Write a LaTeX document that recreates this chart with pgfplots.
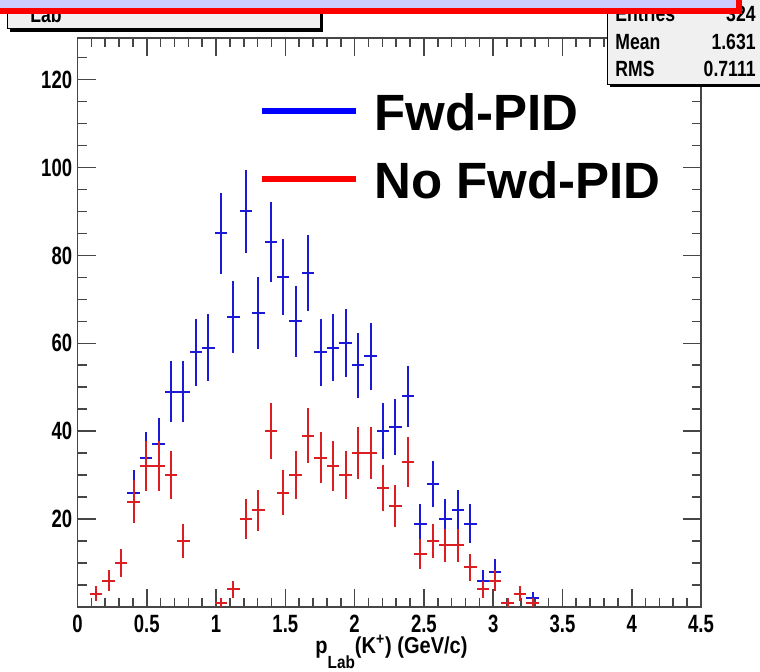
\documentclass[border=0pt]{standalone}
\usepackage{fontspec}
\setmainfont{Liberation Sans}
\newfontfamily\tickfont{Liberation Sans}[FakeStretch=0.74]
\newfontfamily\statfont{Liberation Sans}[FakeStretch=0.8]
\newfontfamily\labfont{Liberation Sans}[FakeStretch=0.87]
\usepackage{pgfplots}
\pgfplotsset{compat=1.18}
\usepackage{pgfplotstable}
\definecolor{hblue}{RGB}{25,25,215}
\definecolor{hred}{RGB}{220,30,35}
\definecolor{lblue}{RGB}{0,0,255}
\definecolor{lred}{RGB}{255,0,0}
\definecolor{titlebg}{RGB}{204,204,255}
\definecolor{boxbg}{RGB}{240,240,240}
\definecolor{framec}{RGB}{70,70,70}

\pgfplotstableread{
x y ey
0.135 3 1.73
0.225 6 2.45
0.315 10 3.16
0.405 26 5.10
0.495 34 5.83
0.585 37 6.08
0.675 49 7.00
0.765 49 7.00
0.855 58 7.62
0.945 59 7.68
1.035 85 9.22
1.125 66 8.12
1.215 90 9.49
1.305 67 8.19
1.395 83 9.11
1.485 75 8.66
1.575 65 8.06
1.665 76 8.72
1.755 58 7.62
1.845 59 7.68
1.935 60 7.75
2.025 55 7.42
2.115 57 7.55
2.205 40 6.32
2.295 41 6.40
2.385 48 6.93
2.475 19 4.36
2.565 28 5.29
2.655 20 4.47
2.745 22 4.69
2.835 19 4.36
2.925 6 2.45
3.015 8 2.83
3.105 1 1.00
3.195 3 1.73
3.285 2 1.41
}\fwd

\pgfplotstableread{
x y ey
0.135 3 1.73
0.225 6 2.45
0.315 10 3.16
0.405 24 4.90
0.495 32 5.66
0.585 32 5.66
0.675 30 5.48
0.765 15 3.87
1.035 1 1.00
1.125 4 2.00
1.215 20 4.47
1.305 22 4.69
1.395 40 6.32
1.485 26 5.10
1.575 30 5.48
1.665 39 6.24
1.755 34 5.83
1.845 32 5.66
1.935 30 5.48
2.025 35 5.92
2.115 35 5.92
2.205 27 5.20
2.295 23 4.80
2.385 33 5.74
2.475 12 3.46
2.565 15 3.87
2.655 14 3.74
2.745 14 3.74
2.835 9 3.00
2.925 4 2.00
3.015 6 2.45
3.105 1 1.00
3.195 3 1.73
3.285 1 1.00
}\nofwd

\begin{document}
\begin{tikzpicture}
\path[use as bounding box] (0pt,0pt) rectangle (380pt,335.5pt);
\begin{axis}[
  at={(38.75pt,32pt)}, anchor=south west,
  scale only axis, width=311.75pt, height=284.35pt,
  xmin=0, xmax=4.5, ymin=0, ymax=129.4,
  xtick={0,0.5,1,1.5,2,2.5,3,3.5,4,4.5},
  xticklabels={0,0.5,1,1.5,2,2.5,3,3.5,4,4.5},
  minor x tick num=4,
  ytick={0,20,40,60,80,100,120},
  yticklabels={,20,40,60,80,100,120},
  minor ytick={5,10,15,25,30,35,45,50,55,65,70,75,85,90,95,105,110,115,125},
  tick align=inside, xtick pos=both, ytick pos=both,
  major tick length=9pt, minor tick length=4.5pt,
  every tick/.style={framec, line width=0.8pt},
  axis line style={framec, line width=0.9pt},
  /pgf/number format/assume math mode=true,
  tick label style={font=\tickfont\bfseries\fontsize{12.5}{14}\selectfont},
  xticklabel style={inner sep=0pt, yshift=-4pt},
  yticklabel style={inner sep=0pt, xshift=-2.5pt},
  xlabel={p\raisebox{-7.8pt}{\fontsize{8.8}{9}\selectfont Lab}(K\textsuperscript{+}) (GeV/c)},
  xlabel style={font=\labfont\bfseries\fontsize{11.5}{13}\selectfont,
    at={(axis description cs:0.381,-0.0815)}, anchor=base west, inner sep=0pt},
  legend style={at={(0.2906,0.9030)}, anchor=north west, draw=none, fill=none,
    inner sep=0pt, outer sep=0pt, row sep=14.2pt,
    nodes={inner sep=0pt, outer sep=0pt},
    font=\bfseries\fontsize{25.5}{28}\selectfont,
    /tikz/every odd column/.append style={column sep=8pt}},
  legend cell align=left,
  legend image code/.code={\draw[line width=3pt] (0pt,1.25pt) -- (47pt,1.25pt);},
]
\addlegendimage{lblue}
\addlegendentry{Fwd-PID}
\addlegendimage{lred}
\addlegendentry{No Fwd-PID}
\addplot[forget plot, draw=none, mark=none,
  error bars/.cd, x dir=both, x fixed=0.045, y dir=both, y explicit,
  error mark=none, error bar style={draw=hblue, line width=1pt}]
  table[x=x, y=y, y error=ey] {\fwd};
\addplot[forget plot, draw=none, mark=none,
  error bars/.cd, x dir=both, x fixed=0.045, y dir=both, y explicit,
  error mark=none, error bar style={draw=hred, line width=1pt}]
  table[x=x, y=y, y error=ey] {\nofwd};
\end{axis}
% stats box
\fill[black] (305pt,291.85pt) rectangle (385pt,345pt);
\filldraw[fill=boxbg, draw=black, line width=0.5pt] (303.5pt,293.35pt) rectangle (385pt,345pt);
\begin{scope}[every node/.style={inner sep=0pt, font=\statfont\bfseries\fontsize{11}{13}\selectfont}]
\node[anchor=base west] at (307.5pt,324.5pt) {Entries};
\node[anchor=base east] at (378pt,324.5pt) {324};
\node[anchor=base west] at (307.5pt,310.5pt) {Mean};
\node[anchor=base east] at (378pt,310.5pt) {1.631};
\node[anchor=base west] at (307.5pt,297.25pt) {RMS};
\node[anchor=base east] at (378pt,297.25pt) {0.7111};
\end{scope}
% title-box fragment
\fill[black] (5.15pt,319.65pt) rectangle (161.65pt,345pt);
\filldraw[fill=boxbg, draw=black, line width=0.5pt] (3.65pt,321.35pt) rectangle (160.35pt,345pt);
\node[anchor=base west, inner sep=0pt, font=\statfont\bfseries\fontsize{11}{13}\selectfont] at (15pt,324pt) {Lab};
% top banner
\filldraw[fill=titlebg, draw=lred, line width=3.2pt] (-10pt,330.1pt) rectangle (369.4pt,350pt);
\end{tikzpicture}
\end{document}
